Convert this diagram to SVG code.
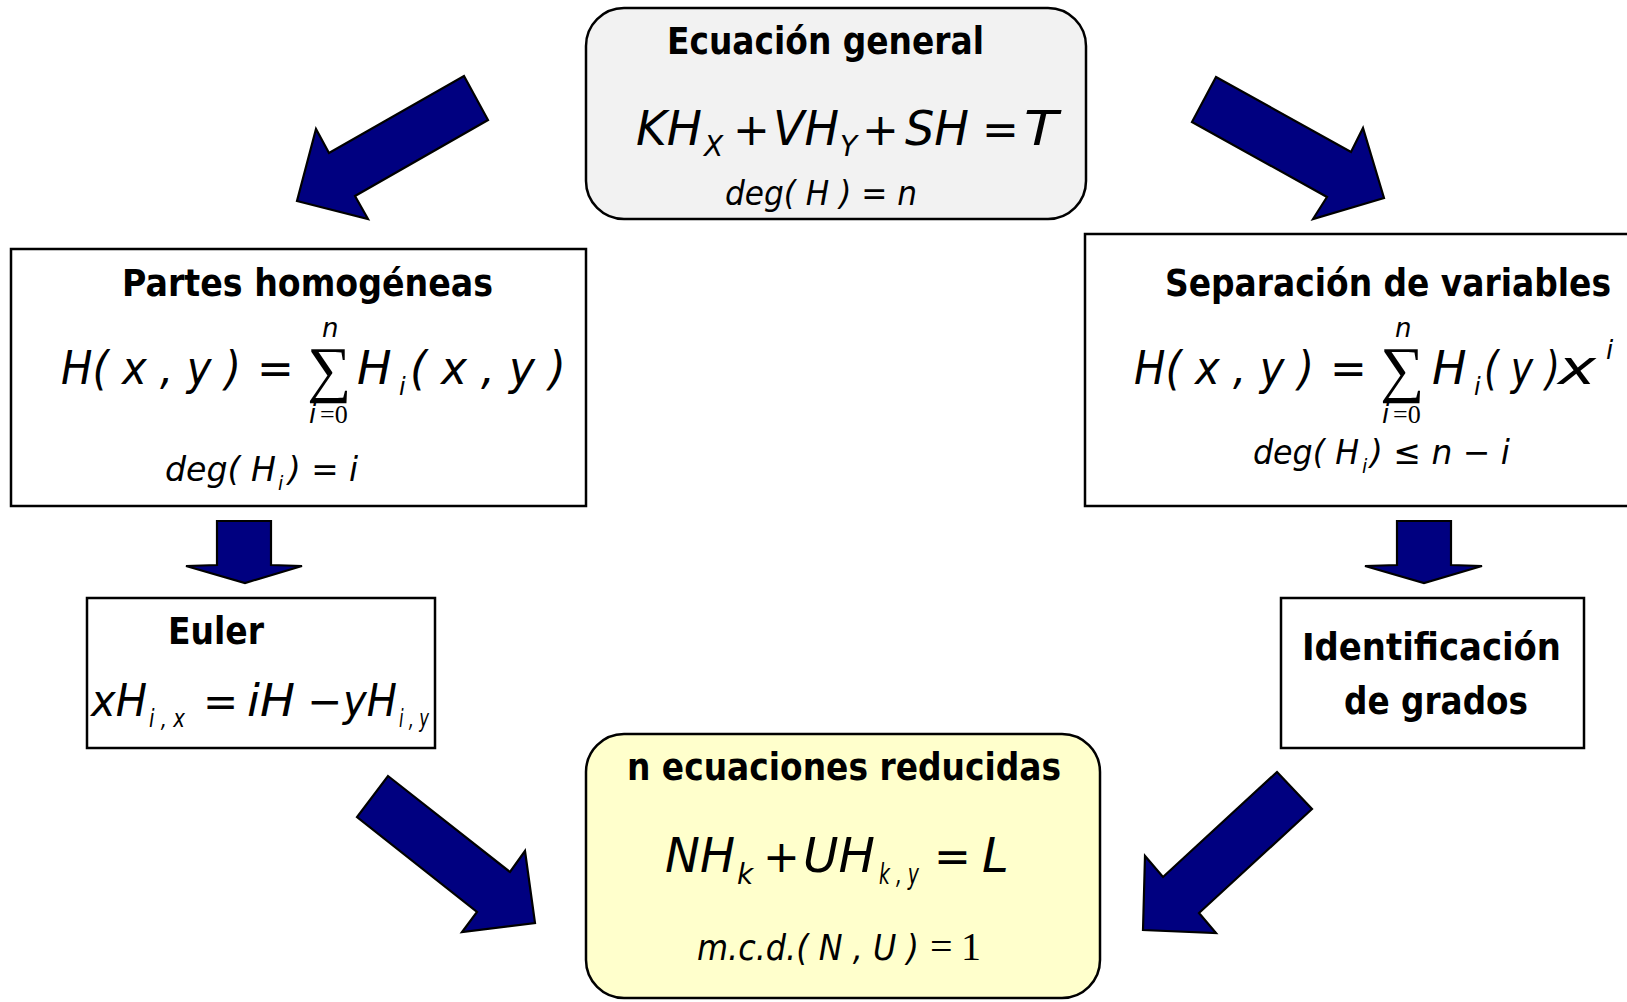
<svg xmlns="http://www.w3.org/2000/svg" width="1627" height="1002" viewBox="0 0 1627 1002">
<style>
.box{stroke:#000;stroke-width:2.5}
.t{font-family:"DejaVu Sans",Verdana,sans-serif;font-weight:bold;font-size:37px;fill:#000}
.m{font-family:"DejaVu Sans",Verdana,sans-serif;font-style:italic;fill:#000}
.o{font-family:"DejaVu Sans",Verdana,sans-serif;fill:#000}
.r{font-family:"Liberation Serif","Times New Roman",serif;fill:#000}
.arr{fill:#000080;stroke:#000;stroke-width:2.2;stroke-linejoin:miter}
</style>
<rect width="1627" height="1002" fill="#fff"/>
<g id="connectors">
<polygon class="arr" points="464,76 488,120 355,196 368,219 297,201 316,129 329,153"/>
<polygon class="arr" points="1216,77 1351,152 1363,128 1384,198 1313,219 1327,197 1192,122"/>
<polygon class="arr" points="217,521 271,521 271,565 302,566 245,583 186,566 217,565"/>
<polygon class="arr" points="1397,521 1451,521 1451,565 1482,566 1424,583 1365,566 1397,565"/>
<polygon class="arr" points="388,776 510,872 525,851 535,923 462,932 477,912 357,817"/>
<polygon class="arr" points="1277,772 1312,809 1199,913 1216,933 1143,930 1145,856 1163,877"/>
</g>
<g id="ecuacion-general">
<rect class="box" x="586" y="8" width="500" height="211" rx="38" fill="#f2f2f2"/>
<text class="t" x="667" y="54" textLength="317" lengthAdjust="spacingAndGlyphs">Ecuación general</text>
<text class="m" x="636" y="145" style="font-size:48px" textLength="66" lengthAdjust="spacingAndGlyphs">KH</text>
<text class="m" x="704" y="156" style="font-size:28px">X</text>
<text class="o" x="733" y="145" style="font-size:44px">+</text>
<text class="m" x="773" y="145" style="font-size:48px" textLength="66" lengthAdjust="spacingAndGlyphs">VH</text>
<text class="m" x="840" y="156" style="font-size:28px">Y</text>
<text class="o" x="862" y="145" style="font-size:44px">+</text>
<text class="m" x="905" y="145" style="font-size:48px" textLength="64" lengthAdjust="spacingAndGlyphs">SH</text>
<text class="o" x="982" y="145" style="font-size:44px">=</text>
<text class="m" x="1024" y="145" style="font-size:48px" textLength="34" lengthAdjust="spacingAndGlyphs">T</text>
<text class="m" x="725" y="205" style="font-size:34px" textLength="192" lengthAdjust="spacingAndGlyphs">deg( H ) = n</text>
</g>
<g id="partes-homogeneas">
<rect class="box" x="11" y="249" width="575" height="257" fill="#fff"/>
<text class="t" x="122" y="296" textLength="371" lengthAdjust="spacingAndGlyphs">Partes homogéneas</text>
<text class="m" x="61" y="384" style="font-size:46px" textLength="180" lengthAdjust="spacingAndGlyphs">H( x , y )</text>
<text class="o" x="257" y="384" style="font-size:44px">=</text>
<text class="r" x="307" y="390" style="font-size:62px">∑</text>
<text class="m" x="322" y="337" style="font-size:26px">n</text>
<text class="m" x="309" y="423" style="font-size:26px">i</text>
<text class="r" x="320" y="423" style="font-size:26px">=0</text>
<text class="m" x="357" y="384" style="font-size:46px">H</text>
<text class="m" x="399" y="395" style="font-size:24px">i</text>
<text class="m" x="410" y="384" style="font-size:46px" textLength="156" lengthAdjust="spacingAndGlyphs">( x , y )</text>
<text class="m" x="165" y="481" style="font-size:34px" textLength="111" lengthAdjust="spacingAndGlyphs">deg( H</text>
<text class="m" x="278" y="490" style="font-size:19px">i</text>
<text class="m" x="288" y="481" style="font-size:34px" textLength="70" lengthAdjust="spacingAndGlyphs">) = i</text>
</g>
<g id="separacion-variables">
<rect class="box" x="1085" y="234" width="560" height="272" fill="#fff"/>
<text class="t" x="1165" y="296" textLength="446" lengthAdjust="spacingAndGlyphs">Separación de variables</text>
<text class="m" x="1134" y="384" style="font-size:46px" textLength="180" lengthAdjust="spacingAndGlyphs">H( x , y )</text>
<text class="o" x="1330" y="384" style="font-size:44px">=</text>
<text class="r" x="1380" y="390" style="font-size:62px">∑</text>
<text class="m" x="1395" y="337" style="font-size:26px">n</text>
<text class="m" x="1382" y="423" style="font-size:26px">i</text>
<text class="r" x="1393" y="423" style="font-size:26px">=0</text>
<text class="m" x="1432" y="384" style="font-size:46px">H</text>
<text class="m" x="1474" y="395" style="font-size:24px">i</text>
<text class="m" x="1484" y="384" style="font-size:46px" textLength="76" lengthAdjust="spacingAndGlyphs">( y )</text>
<text class="m" x="1558" y="384" style="font-size:48px" textLength="38" lengthAdjust="spacingAndGlyphs">x</text>
<text class="m" x="1606" y="359" style="font-size:26px">i</text>
<text class="m" x="1253" y="464" style="font-size:34px" textLength="106" lengthAdjust="spacingAndGlyphs">deg( H</text>
<text class="m" x="1362" y="473" style="font-size:19px">i</text>
<text class="m" x="1370" y="464" style="font-size:34px" textLength="140" lengthAdjust="spacingAndGlyphs">) ≤ n − i</text>
</g>
<g id="euler">
<rect class="box" x="87" y="598" width="348" height="150" fill="#fff"/>
<text class="t" x="168" y="644" textLength="96" lengthAdjust="spacingAndGlyphs">Euler</text>
<text class="m" x="91" y="716" style="font-size:44px" textLength="56" lengthAdjust="spacingAndGlyphs">xH</text>
<text class="m" x="149" y="727" style="font-size:24px" textLength="36" lengthAdjust="spacingAndGlyphs">i , x</text>
<text class="o" x="203" y="716" style="font-size:42px">=</text>
<text class="m" x="247" y="716" style="font-size:44px" textLength="48" lengthAdjust="spacingAndGlyphs">iH</text>
<text class="o" x="307" y="716" style="font-size:42px">−</text>
<text class="m" x="343" y="716" style="font-size:44px" textLength="54" lengthAdjust="spacingAndGlyphs">yH</text>
<text class="m" x="399" y="727" style="font-size:24px" textLength="30" lengthAdjust="spacingAndGlyphs">i , y</text>
</g>
<g id="identificacion-grados">
<rect class="box" x="1281" y="598" width="303" height="150" fill="#fff"/>
<text class="t" x="1302" y="660" textLength="259" lengthAdjust="spacingAndGlyphs">Identificación</text>
<text class="t" x="1344" y="714" textLength="184" lengthAdjust="spacingAndGlyphs">de grados</text>
</g>
<g id="ecuaciones-reducidas">
<rect class="box" x="586" y="734" width="514" height="264" rx="38" fill="#ffffcc"/>
<text class="t" x="627" y="780" textLength="434" lengthAdjust="spacingAndGlyphs">n ecuaciones reducidas</text>
<text class="m" x="665" y="872" style="font-size:48px" textLength="70" lengthAdjust="spacingAndGlyphs">NH</text>
<text class="m" x="737" y="884" style="font-size:28px">k</text>
<text class="o" x="763" y="872" style="font-size:44px">+</text>
<text class="m" x="803" y="872" style="font-size:48px" textLength="72" lengthAdjust="spacingAndGlyphs">UH</text>
<text class="m" x="879" y="884" style="font-size:28px" textLength="40" lengthAdjust="spacingAndGlyphs">k , y</text>
<text class="o" x="934" y="872" style="font-size:44px">=</text>
<text class="m" x="982" y="872" style="font-size:48px">L</text>
<text class="m" x="697" y="960" style="font-size:36px" textLength="222" lengthAdjust="spacingAndGlyphs">m.c.d.( N , U )</text>
<text class="r" x="930" y="960" style="font-size:40px">=</text>
<text class="r" x="961" y="960" style="font-size:40px">1</text>
</g>
</svg>
